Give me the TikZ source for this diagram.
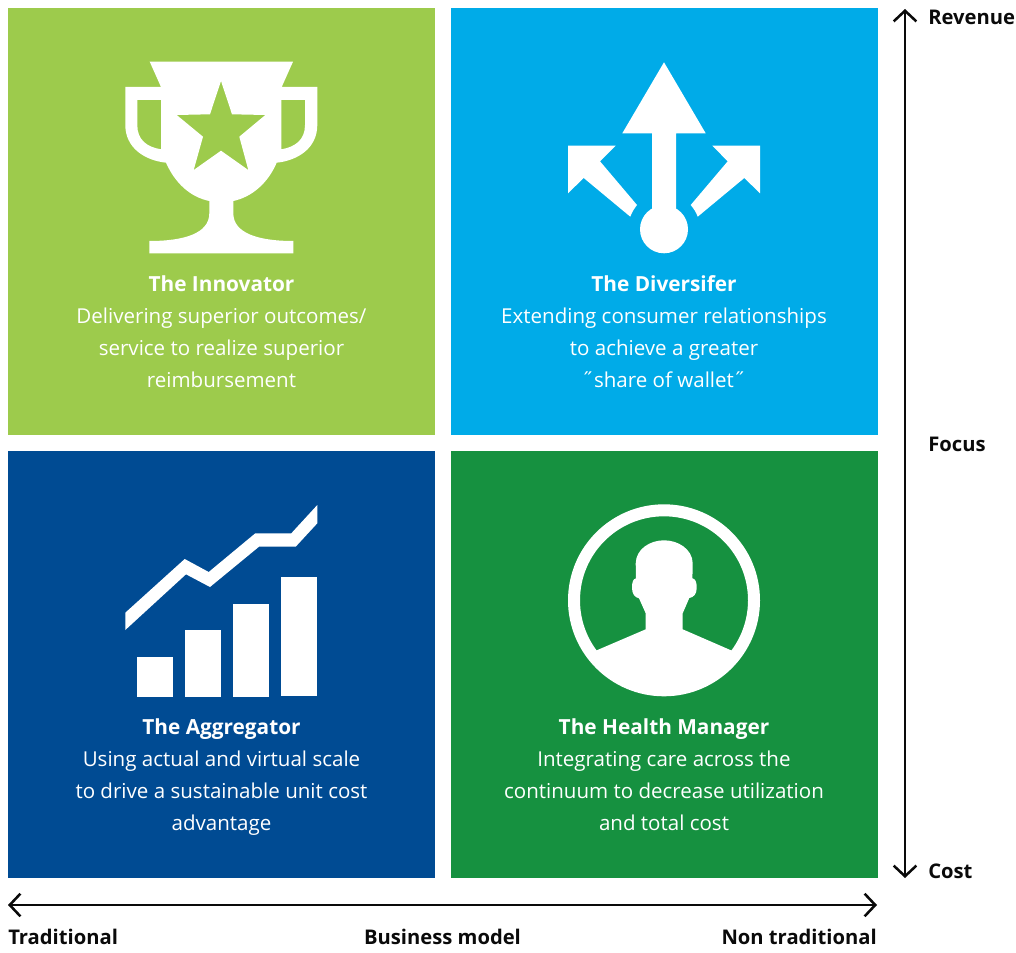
\documentclass[tikz,border=0pt]{standalone}
\usepackage{fontspec}
\setmainfont{Open Sans}
\usetikzlibrary{arrows.meta}
\definecolor{lime}{HTML}{9DCB4C}
\definecolor{sky}{HTML}{00ABE8}
\definecolor{navy}{HTML}{004B93}
\definecolor{leaf}{HTML}{169140}
\definecolor{ink}{HTML}{0A0A0A}
\tikzset{
  panel/.style={anchor=north west,minimum width=427*0.75pt,minimum height=427*0.75pt,inner sep=0pt,outer sep=0pt,fill=#1},
  caption/.style={text=white,font=\fontsize{15.4pt}{24pt}\selectfont,anchor=base,inner sep=0pt},
  captitle/.style={caption,font=\fontsize{15.6pt}{24pt}\selectfont\bfseries},
  axislabel/.style={text=ink,font=\fontsize{15.15pt}{18pt}\selectfont\bfseries,inner sep=0pt},
  axisline/.style={draw=ink,line width=1.9pt,{Straight Barb[length=8pt,width=17pt,line width=1.9pt]}-{Straight Barb[length=8pt,width=17pt,line width=1.9pt]}},
}
\begin{document}
\begin{tikzpicture}[x=0.75pt,y=-0.75pt]
\useasboundingbox (0,0) rectangle (1016,952);
\fill[white] (0,0) rectangle (1016,952);
% panels
\node[panel=lime] (innovator) at (8,8) {};
\node[panel=sky] (diversifier) at (451,8) {};
\node[panel=navy] (aggregator) at (8,451) {};
\node[panel=leaf] (manager) at (451,451) {};
% trophy
\fill[white,even odd rule]
  (149.7,61.7) -- (293,61.7) -- (281.7,87) -- (317.3,87) -- (317.3,125)
  .. controls (317.3,148) and (298,160.5) .. (276.7,162.7)
  .. controls (268,183) and (252,197) .. (233.3,201)
  -- (233.3,213.3) .. controls (233.3,233) and (258,241) .. (293.3,241)
  -- (293.3,253.3) -- (149.3,253.3) -- (149.3,241)
  .. controls (185,241) and (209.3,233) .. (209.3,213.3)
  -- (209.3,201) .. controls (190,197) and (175,183) .. (166,162.7)
  .. controls (145,160.5) and (125.3,148) .. (125.3,125)
  -- (125.3,87) -- (161,87) -- cycle
  (137.3,100) -- (161,100) -- (161,149.3) .. controls (147,147) and (137.3,140) .. (137.3,125) -- cycle
  (281.3,100) -- (305,100) -- (305,125) .. controls (305,140) and (295,147) .. (281.3,149.3) -- cycle
  (221,81) -- (232,114.3) -- (265.3,115) -- (239.3,136.7) -- (248.3,170) -- (221,150.7)
  -- (193.7,170) -- (203,136.7) -- (176.7,115) -- (210,114.3) -- cycle;
% arrows icon
\fill[white] (664,62.3) -- (705.7,133.3) -- (676,133.3) -- (676,212) -- (652,212) -- (652,133.3) -- (622.3,133.3) -- cycle;
\fill[white] (664,229.3) circle[radius=24*0.75pt];
\fill[white] (568,145.7) -- (615.7,145.7) -- (600,161.3) -- (637,205) .. controls (634,209) and (632,212) .. (630.3,216.7) -- (583.7,178) -- (568,193.3) -- cycle;
\fill[white] (760,145.7) -- (712.3,145.7) -- (727.7,161.3) -- (690.7,205) .. controls (694,209) and (696,212) .. (697.7,216.7) -- (744.3,178) -- (760,193.3) -- cycle;
% chart
\fill[white] (137,657) rectangle (173,697);
\fill[white] (185,630) rectangle (221,697);
\fill[white] (233,604) rectangle (269,697);
\fill[white] (281,577) rectangle (317,696);
\fill[white] (125.3,612.7) -- (184.7,559) -- (208.7,572) -- (255.3,533.3) -- (291.3,533.3) -- (317.3,505)
  -- (317.3,523.3) -- (295.7,546.7) -- (259,546.7) -- (210,587) -- (186,574.3) -- (125.3,630) -- cycle;
% person
\fill[white,even odd rule] (664,600.3) circle[radius=96*0.75pt] (664,600.3) circle[radius=84*0.75pt];
\begin{scope}
\clip (664,600.3) circle[radius=90*0.75pt];
\fill[white] (590,653) -- (596.7,650.3) -- (645.7,629.3) -- (645.7,613.3) -- (639,598.3)
  .. controls (635,597.5) and (632,594) .. (632,588)
  .. controls (632,582) and (633,579) .. (636,578.3)
  -- (635.7,563.3) .. controls (636,549) and (650,540.3) .. (664,540.3)
  .. controls (678,540.3) and (692.4,549) .. (692.7,563.3)
  -- (692.4,578.3) .. controls (695.5,579) and (696.7,582) .. (696.7,588)
  .. controls (696.7,594) and (693.5,597.5) .. (689.3,598)
  -- (682.7,613.3) -- (682.7,629.3) -- (731,650.3) -- (738,653) -- (738,700) -- (590,700) -- cycle;
\end{scope}
% captions
\node[captitle] (t1) at (221.5,291) {The Innovator};
\node[caption] (t1a) at (221.5,323) {Delivering superior outcomes/};
\node[caption] (t1b) at (221.5,355) {service to realize superior};
\node[caption] (t1c) at (221.5,387) {reimbursement};
\node[captitle] (t2) at (664,291) {The Diversifer};
\node[caption] (t2a) at (664,323) {Extending consumer relationships};
\node[caption] (t2b) at (664,355) {to achieve a greater};
\node[caption] (t2c) at (664,387) {˝share of wallet˝};
\node[captitle] (t3) at (221.5,734) {The Aggregator};
\node[caption] (t3a) at (221.5,766) {Using actual and virtual scale};
\node[caption] (t3b) at (221.5,798) {to drive a sustainable unit cost};
\node[caption] (t3c) at (221.5,830) {advantage};
\node[captitle] (t4) at (664,734) {The Health Manager};
\node[caption] (t4a) at (664,766) {Integrating care across the};
\node[caption] (t4b) at (664,798) {continuum to decrease utilization};
\node[caption] (t4c) at (664,830) {and total cost};
% axes
\coordinate (vtop) at (905,9);
\coordinate (vbot) at (905,878);
\coordinate (hleft) at (8,905);
\coordinate (hright) at (877,905);
\draw[axisline] (vtop) -- (vbot);
\draw[axisline] (hleft) -- (hright);
\node[axislabel,anchor=base west] (revenue) at (928,25) {Revenue};
\node[axislabel,anchor=base west] (focus) at (928,451) {Focus};
\node[axislabel,anchor=base west] (cost) at (928,878) {Cost};
\node[axislabel,anchor=base west] (traditional) at (8,944) {Traditional};
\node[axislabel,anchor=base] (model) at (442.5,944) {Business model};
\node[axislabel,anchor=base east] (nontrad) at (877,944) {Non traditional};
\end{tikzpicture}
\end{document}
